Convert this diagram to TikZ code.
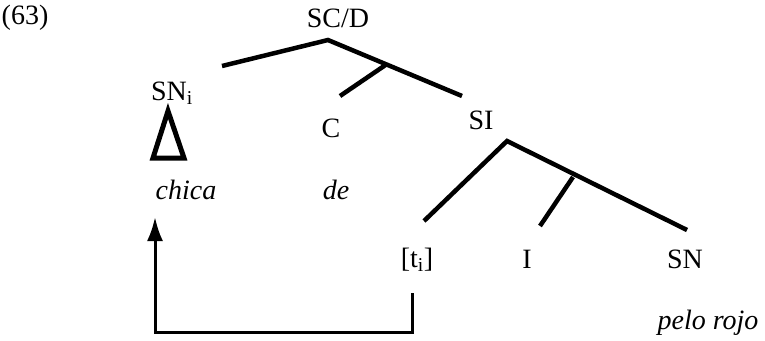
\documentclass[tikz,border=0pt]{standalone}
\usepackage{fontspec}
\setmainfont{Liberation Serif}
\usetikzlibrary{arrows.meta}
\begin{document}
\begin{tikzpicture}[
  x=1pt, y=-1pt,
  every node/.style={font=\fontsize{28}{32}\selectfont, inner sep=0pt},
  branch/.style={line width=4.5pt},
  movearrow/.style={line width=3pt, -{Latex[length=24pt,width=16pt]}}
]
  \useasboundingbox (0,0) rectangle (765,340);
  % labels
  \node (ex)    at (25,18)   {(63)};
  \node (scd)   at (338,18)  {SC/D};
  \node (sni)   at (172,93)  {SN\textsubscript{i}};
  \node (c)     at (331,128) {C};
  \node (si)    at (481,120) {SI};
  \node (chica) at (186,190) {\itshape chica};
  \node (de)    at (336,190) {\itshape de};
  \node (ti)    at (417,260) {[t\textsubscript{i}]};
  \node (i)     at (527,259) {I};
  \node (sn)    at (685,259) {SN};
  \node (pelo)  at (708,323) {\itshape pelo rojo};

  % branch points
  \coordinate (scd-top) at (328,40);
  \coordinate (scd-l)   at (222,66);
  \coordinate (scd-r)   at (462,96);
  \coordinate (scd-m)   at (387,64);
  \coordinate (c-top)   at (340,96);
  \coordinate (si-top)  at (507,141);
  \coordinate (si-l)    at (424,221);
  \coordinate (si-r)    at (687,230);
  \coordinate (si-m)    at (573,177);
  \coordinate (i-top)   at (540,226);

  \draw[branch] (scd-l) -- (scd-top) -- (scd-r);
  \draw[branch] (scd-m) -- (c-top);
  \draw[branch] (si-l) -- (si-top) -- (si-r);
  \draw[branch] (si-m) -- (i-top);

  % triangle under SN_i
  \coordinate (tri-top) at (168,111);
  \coordinate (tri-l)   at (153,158);
  \coordinate (tri-r)   at (184,158);
  \draw[branch, line width=5pt, line join=miter] (tri-top) -- (tri-l) -- (tri-r) -- cycle;

  % movement arrow
  \coordinate (ti-foot)  at (412,293);
  \coordinate (ti-low)   at (412,332);
  \coordinate (chica-low) at (155,332);
  \coordinate (chica-foot) at (155,217);
  \draw[movearrow] (ti-foot) -- (ti-low) -- (chica-low) -- (chica-foot);
\end{tikzpicture}
\end{document}
